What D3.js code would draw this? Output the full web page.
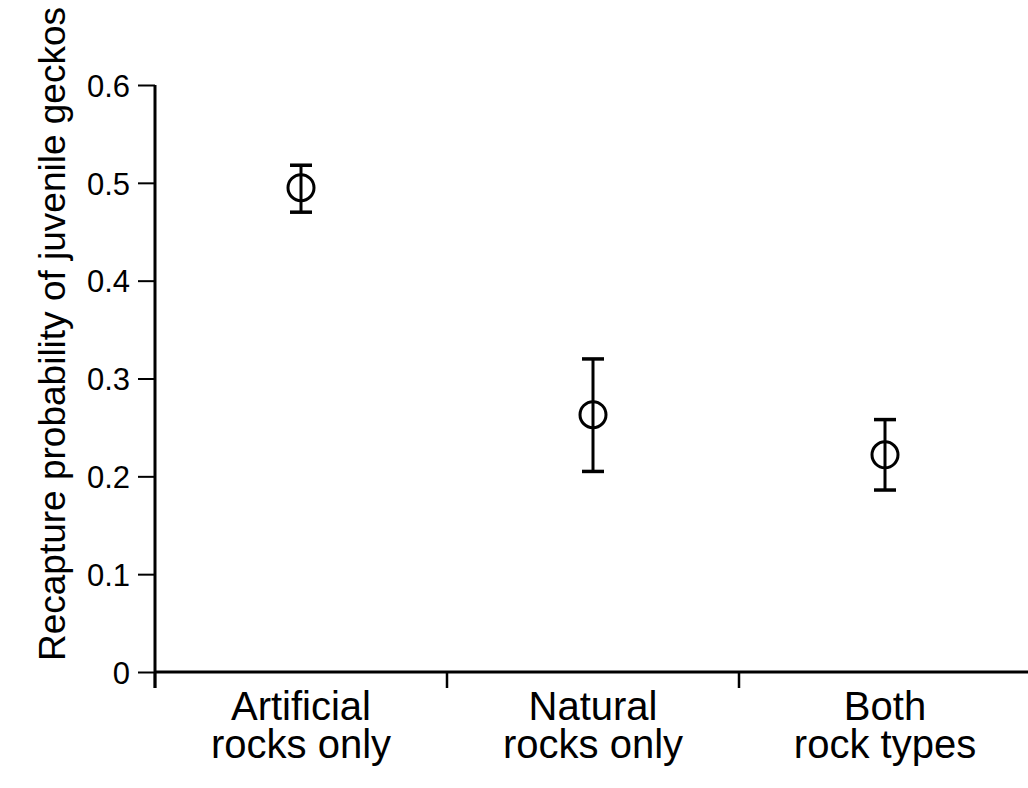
<!DOCTYPE html>
<html>
<head>
<meta charset="utf-8">
<script src="https://cdn.jsdelivr.net/npm/d3@7/dist/d3.min.js"></script>
<style>
  body { margin: 0; background: #fff; }
  svg { display: block; font-family: "Liberation Sans", Arial, Helvetica, sans-serif; }
</style>
</head>
<body>
<svg id="chart" width="1028" height="788"></svg>
<script>
// === DATA ===
const categories = [["Artificial", "rocks only"], ["Natural", "rocks only"], ["Both", "rock types"]];
const means = [0.495, 0.263, 0.222];
const lower = [0.470, 0.205, 0.186];
const upper = [0.518, 0.320, 0.258];
const yTicks = [0, 0.1, 0.2, 0.3, 0.4, 0.5, 0.6];
const yTitle = "Recapture probability of juvenile geckos";

// === LAYOUT ===
const plotLeft = 155, plotRight = 1031, plotTop = 85, plotBottom = 672;

const svg = d3.select("#chart");

const x = d3.scaleLinear().domain([0, categories.length]).range([plotLeft, plotRight]);
const y = d3.scaleLinear().domain([0, 0.6]).range([plotBottom, plotTop]);

// Y axis
const yAxisG = svg.append("g")
  .attr("transform", `translate(${plotLeft},0)`)
  .call(d3.axisLeft(y).tickValues(yTicks).tickSize(17).tickPadding(8)
    .tickFormat(d => d === 0 ? "0" : d3.format(".1f")(d)));
yAxisG.select(".domain").remove();
yAxisG.attr("font-family", null);
yAxisG.selectAll(".tick line").attr("stroke", "#000").attr("stroke-width", 2);
yAxisG.selectAll(".tick text")
  .attr("fill", "#000")
  .style("font-size", "31px")
  .attr("dy", "0.36em");

// vertical axis line (extends a bit below zero)
svg.append("line")
  .attr("x1", plotLeft).attr("x2", plotLeft)
  .attr("y1", plotTop).attr("y2", plotBottom + 16)
  .attr("stroke", "#000").attr("stroke-width", 3);

// X axis: line + boundary ticks
svg.append("line")
  .attr("x1", plotLeft).attr("x2", 1028)
  .attr("y1", plotBottom).attr("y2", plotBottom)
  .attr("stroke", "#000").attr("stroke-width", 3);

svg.selectAll("line.xtick")
  .data(d3.range(categories.length))
  .join("line")
  .attr("class", "xtick")
  .attr("x1", d => x(d)).attr("x2", d => x(d))
  .attr("y1", plotBottom).attr("y2", plotBottom + 16)
  .attr("stroke", "#000").attr("stroke-width", 2.5);

// category labels
const labels = svg.selectAll("text.cat")
  .data(categories)
  .join("text")
  .attr("class", "cat")
  .attr("text-anchor", "middle")
  .attr("x", (d, i) => x(i + 0.5))
  .attr("y", 720)
  .style("font-size", "40px")
  .attr("fill", "#000");
labels.selectAll("tspan")
  .data(d => d)
  .join("tspan")
  .attr("x", function () { return d3.select(this.parentNode).attr("x"); })
  .attr("dy", (d, i) => i === 0 ? 0 : 38)
  .text(d => d);

// Y title
svg.append("text")
  .attr("transform", `translate(65,${334}) rotate(-90)`)
  .attr("text-anchor", "middle")
  .style("font-size", "37px")
  .attr("fill", "#000")
  .text(yTitle);

// === ERROR BARS + POINTS ===
const capHalf = 11;
const pts = svg.append("g");
means.forEach((m, i) => {
  const cx = x(i + 0.5);
  pts.append("line")
    .attr("x1", cx).attr("x2", cx)
    .attr("y1", y(lower[i])).attr("y2", y(upper[i]))
    .attr("stroke", "#000").attr("stroke-width", 3);
  [lower[i], upper[i]].forEach(v => {
    pts.append("line")
      .attr("x1", cx - capHalf).attr("x2", cx + capHalf)
      .attr("y1", y(v)).attr("y2", y(v))
      .attr("stroke", "#000").attr("stroke-width", 3.5);
  });
  pts.append("circle")
    .attr("cx", cx).attr("cy", y(m))
    .attr("r", 13)
    .attr("fill", "none")
    .attr("stroke", "#000").attr("stroke-width", 3);
});
</script>
</body>
</html>
